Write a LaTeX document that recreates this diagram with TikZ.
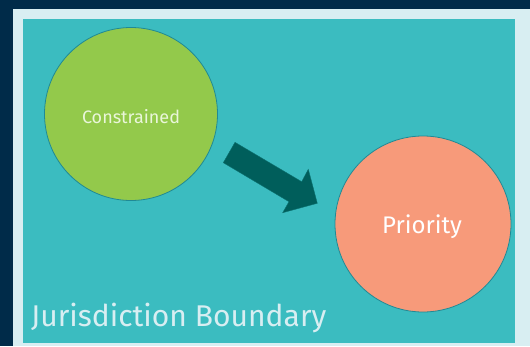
\documentclass[tikz,border=0pt]{standalone}
\usepackage{fontspec}
\setmainfont{Fira Sans}
\definecolor{navy}{HTML}{002B49}
\definecolor{frame}{HTML}{D8EEF2}
\definecolor{tealbg}{HTML}{3BBCC0}
\definecolor{greenc}{HTML}{93C94B}
\definecolor{salmon}{HTML}{F79A7A}
\definecolor{arrowc}{HTML}{005E5B}
\definecolor{rim}{HTML}{1F8A96}
\definecolor{lighttxt}{HTML}{EAF6DA}
\begin{document}
\begin{tikzpicture}[x=1pt,y=-1pt,
  circ/.style={circle,draw=rim,line width=0.8pt,inner sep=0pt},
  lbl/.style={text=white,inner sep=0pt}]
\useasboundingbox (0,0) rectangle (530,346);
\fill[navy] (0,0) rectangle (530,346);
\fill[frame] (13,9) rectangle (530,346);
\fill[tealbg] (23,19) rectangle (515,343);
\node[circ,fill=greenc,minimum size=173pt] (c) at (131,114) {};
\node[lbl,text=lighttxt,font=\fontsize{18}{21}\selectfont] (ct) at (131,117) {Constrained};
\node[circ,fill=salmon,minimum size=176pt] (p) at (423,224) {};
\node[lbl,font=\fontsize{24}{28}\selectfont] (pt) at (422,227) {Priority};
\fill[arrowc,draw=arrowc!80!tealbg,line width=0.4pt] (235,142.3) -- (223.3,162.7) -- (289,201.7) -- (282.7,212.7) -- (317.3,203.3) -- (308.3,169.3) -- (301.7,181.7) -- cycle;
\node[lbl,anchor=base west,text=frame,font=\fontsize{30}{35}\selectfont] (jb) at (31,326) {Jurisdiction Boundary};
\end{tikzpicture}
\end{document}
